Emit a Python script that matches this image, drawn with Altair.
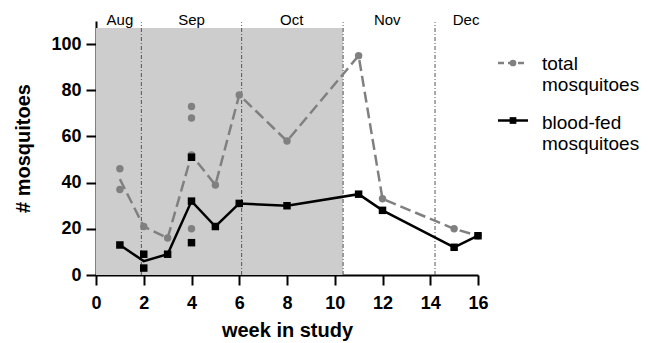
import altair as alt
import pandas as pd

# ---- data ----
weeks = [1, 2, 3, 4, 5, 6, 8, 11, 12, 15, 16]
total_mean = [41.5, 21, 16, 52, 39, 78, 58, 95, 33, 20, 17]
fed_mean = [13, 6, 9, 32, 21, 31, 30, 35, 28, 12, 17]

total_rep_week = [1, 1, 2, 3, 4, 4, 4, 4, 5, 6, 8, 11, 12, 15, 16]
total_rep_val = [46, 37, 21, 16, 73, 68, 52, 20, 39, 78, 58, 95, 33, 20, 17]
fed_rep_week = [1, 2, 2, 3, 4, 4, 4, 5, 6, 8, 11, 12, 15, 16]
fed_rep_val = [13, 9, 3, 9, 51, 32, 14, 21, 31, 30, 35, 28, 12, 17]

month_names = ["Aug", "Sep", "Oct", "Nov", "Dec"]
month_label_week = [1.0, 4.0, 8.2, 12.2, 15.5]
month_bounds = [1.9, 6.1, 10.35, 14.2]
shade_start = [0]
shade_end = [10.35]

x_ticks = [0, 2, 4, 6, 8, 10, 12, 14, 16]
y_ticks = [0, 20, 40, 60, 80, 100]

FONT = "Liberation Sans"
GRAY = "#808080"

# ---- tables ----
mean_total_df = pd.DataFrame({"week": weeks, "value": total_mean})
mean_fed_df = pd.DataFrame({"week": weeks, "value": fed_mean})
rep_total_df = pd.DataFrame({"week": total_rep_week, "value": total_rep_val})
rep_fed_df = pd.DataFrame({"week": fed_rep_week, "value": fed_rep_val})
shade_df = pd.DataFrame({"week": shade_start, "end": shade_end, "lo": [0], "hi": [107]})
bounds_df = pd.DataFrame({"week": month_bounds, "lo": 0, "hi": 109.5})
months_df = pd.DataFrame({"week": month_label_week, "label": month_names, "value": 108.4})

xs = alt.Scale(domain=[0, 16], nice=False, zero=False)
ys = alt.Scale(domain=[0, 110], nice=False, zero=True)

xaxis = alt.Axis(
    values=x_ticks, format="d", grid=False, labelFlush=False,
    domainColor="black", domainWidth=2, tickColor="black", tickWidth=2, tickSize=10,
    labelFont=FONT, labelFontSize=18, labelFontWeight="bold", labelColor="black",
    labelPadding=9,
    titleFont=FONT, titleFontSize=20, titleFontWeight="bold", titleColor="black",
    titleBaseline="alphabetic", titleY=61,
)
yaxis = alt.Axis(
    values=y_ticks, format="d", grid=False, labelFlush=False,
    domainColor="black", domainWidth=2, tickColor="black", tickWidth=2, tickSize=10,
    labelFont=FONT, labelFontSize=18, labelFontWeight="bold", labelColor="black",
    labelPadding=5,
    titleFont=FONT, titleFontSize=20, titleFontWeight="bold", titleColor="black",
    titleBaseline="alphabetic", titleX=-67, titleY=127, titleAngle=270,
)


def X(field):
    return alt.X(field, type="quantitative", scale=xs, axis=xaxis, title="week in study")


def Y(field):
    return alt.Y(field, type="quantitative", scale=ys, axis=yaxis, title="# mosquitoes")


shade = alt.Chart(shade_df).mark_rect(color="#cdcdcd").encode(
    x=X("week"), x2=alt.X2("end"), y=Y("lo"), y2=alt.Y2("hi")
)
bounds = alt.Chart(bounds_df).mark_rule(
    color="#555555", strokeWidth=1, strokeDash=[4, 2, 1, 2]
).encode(x=X("week"), y=Y("lo"), y2=alt.Y2("hi"))
months = alt.Chart(months_df).mark_text(
    font=FONT, fontSize=15, color="black", baseline="alphabetic", align="center"
).encode(x=X("week"), y=Y("value"), text="label:N")

total_line = alt.Chart(mean_total_df).mark_line(
    color=GRAY, strokeWidth=2.5, strokeDash=[11, 5]
).encode(x=X("week"), y=Y("value"))
total_pts = alt.Chart(rep_total_df).mark_point(
    shape="circle", filled=True, size=55, color=GRAY, opacity=1
).encode(x=X("week"), y=Y("value"))
fed_line = alt.Chart(mean_fed_df).mark_line(
    color="black", strokeWidth=2.5
).encode(x=X("week"), y=Y("value"))
fed_pts = alt.Chart(rep_fed_df).mark_point(
    shape="square", filled=True, size=56, color="black", opacity=1
).encode(x=X("week"), y=Y("value"))

# ---- legend (drawn to the right of the plot) ----
one = pd.DataFrame({"k": [0]})
leg_total_rule = alt.Chart(one).mark_rule(
    color=GRAY, strokeWidth=2.5, strokeDash=[6, 4]
).encode(x=alt.value(402), x2=alt.value(432), y=alt.value(42))
leg_total_pt = alt.Chart(one).mark_point(
    shape="circle", filled=True, size=45, color=GRAY, opacity=1
).encode(x=alt.value(417), y=alt.value(42))
leg_total_txt = alt.Chart(one).mark_text(
    font=FONT, fontSize=19, align="left", baseline="alphabetic", lineBreak="\n",
    lineHeight=21, color="black"
).encode(x=alt.value(446), y=alt.value(48.5), text=alt.value("total\nmosquitoes"))
leg_fed_rule = alt.Chart(one).mark_rule(
    color="black", strokeWidth=2.5
).encode(x=alt.value(402), x2=alt.value(432), y=alt.value(99.5))
leg_fed_pt = alt.Chart(one).mark_point(
    shape="square", filled=True, size=45, color="black", opacity=1
).encode(x=alt.value(417), y=alt.value(99.5))
leg_fed_txt = alt.Chart(one).mark_text(
    font=FONT, fontSize=19, align="left", baseline="alphabetic", lineBreak="\n",
    lineHeight=21, color="black"
).encode(x=alt.value(446), y=alt.value(107.5), text=alt.value("blood-fed\nmosquitoes"))

chart = alt.layer(
    shade, bounds, months, total_line, total_pts, fed_line, fed_pts,
    leg_total_rule, leg_total_pt, leg_total_txt, leg_fed_rule, leg_fed_pt, leg_fed_txt,
).properties(
    width=382, height=254,
    autosize=alt.AutoSizeParams(type="none"),
    padding={"left": 88, "top": 13, "right": 162, "bottom": 66},
).configure_view(stroke=None)

chart.save("out.html", embed_options={"renderer": "svg", "actions": False})
